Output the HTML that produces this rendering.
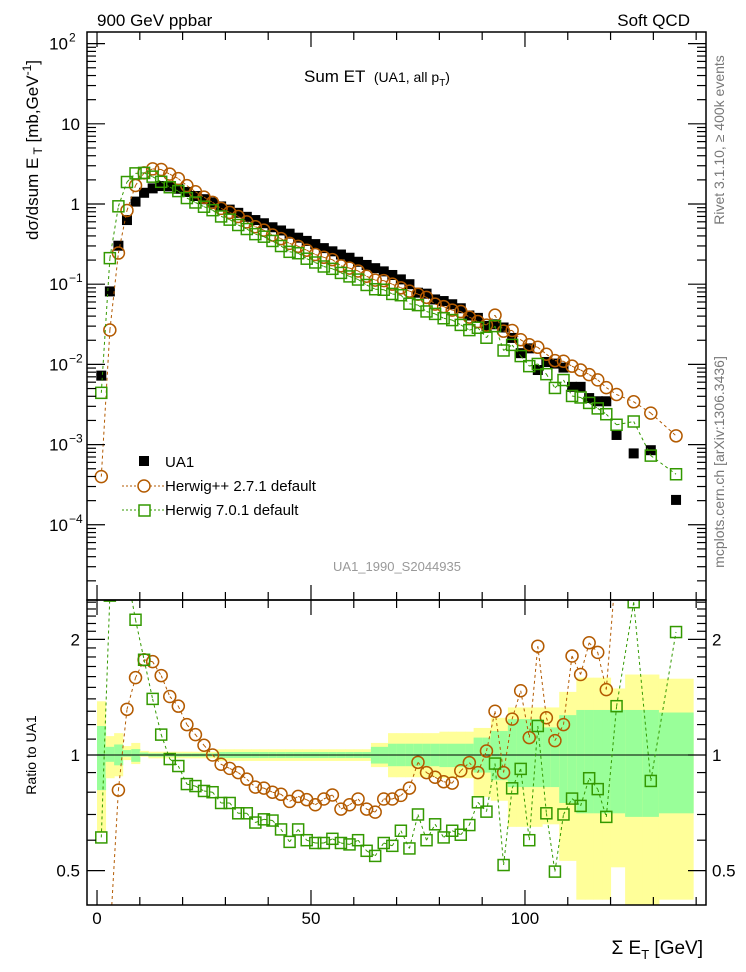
<!DOCTYPE html>
<html><head><meta charset="utf-8"><style>
html,body{margin:0;padding:0;background:#fff;width:746px;height:972px;overflow:hidden;}
svg{display:block;position:absolute;left:0;top:0;font-family:"Liberation Sans",sans-serif;overflow:hidden;}
</style></head><body>
<svg id="c" width="746" height="972" viewBox="0 0 746 972" xmlns="http://www.w3.org/2000/svg">
<defs>
<clipPath id="cpTop"><rect x="87" y="32" width="619" height="568"/></clipPath>
<clipPath id="cpBot"><rect x="87" y="600" width="619" height="305"/></clipPath>
</defs>
<g id="bands" clip-path="url(#cpBot)"></g>
<g id="gtop" clip-path="url(#cpTop)"></g>
<g id="gbot" clip-path="url(#cpBot)"></g>
<g id="axes"></g>
<text x="97" y="26" font-size="17">900 GeV ppbar</text>
<text x="690" y="26" font-size="17" text-anchor="end">Soft QCD</text>
<text x="304" y="82" font-size="17">Sum ET <tspan font-size="14" dx="4">(UA1, all p</tspan><tspan font-size="10" dy="4">T</tspan><tspan font-size="14" dy="-4">)</tspan></text>
<text transform="translate(38,150) rotate(-90)" font-size="17" text-anchor="middle">dσ/dsum E<tspan font-size="12" dy="4"> T</tspan><tspan dy="-4"> [mb,GeV</tspan><tspan font-size="12" dy="-7">-1</tspan><tspan dy="7">]</tspan></text>
<text transform="translate(36,755) rotate(-90)" font-size="14" text-anchor="middle">Ratio to UA1</text>
<text x="703" y="954" font-size="19" text-anchor="end">Σ E<tspan font-size="13" dy="5">T</tspan><tspan dy="-5"> [GeV]</tspan></text>
<text transform="translate(724,140) rotate(-90)" font-size="14" fill="#777" text-anchor="middle">Rivet 3.1.10, ≥ 400k events</text>
<text transform="translate(724,462) rotate(-90)" font-size="14" fill="#777" text-anchor="middle">mcplots.cern.ch [arXiv:1306.3436]</text>
<text x="397" y="571" font-size="13" fill="#999" text-anchor="middle">UA1_1990_S2044935</text>
<g>
<g>
<rect x="139" y="456" width="10" height="10" fill="#000"/>
<text x="165" y="467" font-size="15">UA1</text></g>
<g>
<line x1="122" y1="486" x2="165" y2="486" stroke="#b35a00" stroke-dasharray="2,2" stroke-width="1"/>
<circle cx="144" cy="486" r="6" fill="#fff" stroke="#b35a00" stroke-width="1.5"/>
<text x="165" y="491" font-size="15">Herwig++ 2.7.1 default</text></g>
<g>
<line x1="122" y1="510" x2="165" y2="510" stroke="#339900" stroke-dasharray="2,2" stroke-width="1"/>
<rect x="139" y="505" width="11" height="11" fill="#fff" stroke="#339900" stroke-width="1.5"/>
<text x="165" y="515" font-size="15">Herwig 7.0.1 default</text></g>
</g>
</svg>
<script>
const binCenters=[1,3,5,7,9,11,13,15,17,19,21,23,25,27,29,31,33,35,37,39,41,43,45,47,49,51,53,55,57,59,61,63,65,67,69,71,73,75,77,79,81,83,85,87,89,91,93,95,97,99,101,103,105,107,109,111,113,115,117,119,121.4,125.4,129.4,135.3];
const binLow=[0,2,4,6,8,10,12,14,16,18,20,22,24,26,28,30,32,34,36,38,40,42,44,46,48,50,52,54,56,58,60,62,64,66,68,70,72,74,76,78,80,82,84,86,88,90,92,94,96,98,100,102,104,106,108,110,112,114,116,118,120,123.4,127.4,131.3];
const binHigh=[2,4,6,8,10,12,14,16,18,20,22,24,26,28,30,32,34,36,38,40,42,44,46,48,50,52,54,56,58,60,62,64,66,68,70,72,74,76,78,80,82,84,86,88,90,92,94,96,98,100,102,104,106,108,110,112,114,116,118,120,123.4,127.4,131.3,139.3];
const ua1Log10=[-2.14,-1.09,-0.52,-0.2,0.03,0.14,0.195,0.224,0.22,0.19,0.15,0.10,0.06,0.02,-0.03,-0.07,-0.11,-0.16,-0.20,-0.24,-0.29,-0.33,-0.37,-0.42,-0.46,-0.50,-0.55,-0.59,-0.63,-0.67,-0.72,-0.76,-0.80,-0.84,-0.885,-0.94,-1.00,-1.106,-1.118,-1.19,-1.21,-1.25,-1.30,-1.39,-1.42,-1.52,-1.50,-1.54,-1.67,-1.86,-1.80,-2.07,-1.97,-1.99,-2.04,-2.28,-2.28,-2.42,-2.46,-2.46,-2.88,-3.11,-3.07,-3.69];
const herwigPPRatio=[0.055,0.33,0.81,1.315,1.59,1.77,1.75,1.61,1.42,1.34,1.20,1.13,1.06,1.0,0.946,0.923,0.90,0.865,0.825,0.82,0.80,0.79,0.757,0.78,0.765,0.742,0.768,0.787,0.723,0.742,0.768,0.723,0.71,0.768,0.768,0.785,0.82,0.957,0.90,0.875,0.852,0.845,0.91,0.955,0.90,1.024,1.30,0.90,1.24,1.47,1.11,1.92,1.25,1.09,1.20,1.81,1.62,1.96,1.85,1.48,3.2,4.4,2.9,6.3];
const herwig7Ratio=[0.61,2.6,3.1,2.98,2.25,1.77,1.40,1.13,0.976,0.936,0.84,0.83,0.806,0.80,0.75,0.75,0.705,0.705,0.667,0.68,0.675,0.64,0.594,0.64,0.60,0.59,0.59,0.605,0.59,0.585,0.60,0.563,0.546,0.59,0.58,0.635,0.571,0.70,0.60,0.66,0.61,0.635,0.62,0.657,0.753,0.712,0.95,0.517,0.819,0.92,0.60,1.19,0.705,0.497,0.70,0.77,0.737,0.87,0.815,0.69,1.34,2.5,0.856,2.09];
const totHi=[1.38,1.12,1.14,1.055,1.075,1.025,1.02,1.02,1.02,1.02,1.02,1.02,1.02,1.02,1.035,1.035,1.035,1.035,1.035,1.035,1.035,1.035,1.035,1.035,1.035,1.035,1.035,1.035,1.035,1.035,1.035,1.035,1.075,1.075,1.14,1.14,1.14,1.14,1.14,1.14,1.15,1.15,1.15,1.15,1.176,1.176,1.25,1.25,1.33,1.33,1.33,1.33,1.33,1.33,1.46,1.46,1.59,1.59,1.59,1.59,1.49,1.62,1.62,1.58];
const totLo=[0.627,0.87,0.88,0.97,0.947,0.99,0.98,0.98,0.98,0.98,0.98,0.98,0.98,0.98,0.965,0.965,0.965,0.965,0.965,0.965,0.965,0.965,0.965,0.965,0.965,0.965,0.965,0.965,0.965,0.965,0.965,0.965,0.93,0.93,0.875,0.875,0.875,0.875,0.875,0.875,0.87,0.87,0.87,0.87,0.777,0.777,0.76,0.76,0.65,0.65,0.65,0.65,0.66,0.66,0.53,0.53,0.42,0.42,0.42,0.42,0.51,0.39,0.39,0.42];
const statHi=[1.19,1.05,1.065,1.03,1.036,1.015,1.01,1.01,1.01,1.01,1.01,1.01,1.01,1.01,1.018,1.018,1.018,1.018,1.018,1.018,1.018,1.018,1.018,1.018,1.018,1.018,1.018,1.018,1.018,1.018,1.018,1.018,1.05,1.05,1.07,1.07,1.07,1.07,1.07,1.07,1.07,1.07,1.07,1.07,1.11,1.11,1.155,1.155,1.24,1.24,1.24,1.24,1.18,1.18,1.27,1.27,1.31,1.31,1.31,1.31,1.31,1.31,1.31,1.29];
const statLo=[0.81,0.96,0.94,0.99,0.96,0.995,0.99,0.99,0.99,0.99,0.99,0.99,0.99,0.99,0.982,0.982,0.982,0.982,0.982,0.982,0.982,0.982,0.982,0.982,0.982,0.982,0.982,0.982,0.982,0.982,0.982,0.982,0.95,0.95,0.935,0.935,0.935,0.935,0.935,0.935,0.93,0.93,0.93,0.93,0.90,0.90,0.86,0.86,0.825,0.825,0.825,0.825,0.825,0.825,0.75,0.75,0.705,0.705,0.705,0.705,0.705,0.69,0.69,0.705];
const xTickLabels=["0","50","100"];
const xTickValues=[0,50,100];

const NS="http://www.w3.org/2000/svg";
const X0=87,X1=706,TY0=32,TY1=600,BY0=600,BY1=905;
const xMin=-2.34,xMax=142.3;
const yLogMax=2.145,yLogMin=-4.938;
const rLogMax=0.4036,rLogMin=-0.3906;
function sx(v){return X0+(v-xMin)/(xMax-xMin)*(X1-X0);}
function syTop(lg){return TY0+(yLogMax-lg)/(yLogMax-yLogMin)*(TY1-TY0);}
function syBot(r){return BY0+(rLogMax-Math.log10(r))/(rLogMax-rLogMin)*(BY1-BY0);}
function mk(tag,attrs,parent){const e=document.createElementNS(NS,tag);for(const k in attrs)e.setAttribute(k,attrs[k]);parent.appendChild(e);return e;}
const gtop=document.getElementById('gtop'),gbot=document.getElementById('gbot'),gb=document.getElementById('bands'),ax=document.getElementById('axes');
const PP="#b35a00",H7="#339900";

function clipSeg(x1,y1,x2,y2,ya,yb){
  let t0=0,t1=1;const dy=y2-y1;
  if(dy===0){if(y1<ya||y1>yb)return null;}
  else{
    let ta=(ya-y1)/dy,tb=(yb-y1)/dy;if(ta>tb){const t=ta;ta=tb;tb=t;}
    t0=Math.max(t0,ta);t1=Math.min(t1,tb);if(t0>t1)return null;
  }
  return [x1+(x2-x1)*t0,y1+dy*t0,x1+(x2-x1)*t1,y1+dy*t1];
}

for(let i=0;i<binCenters.length;i++){
  const x=sx(binLow[i]),w=sx(binHigh[i])-sx(binLow[i]);
  let yT=Math.max(BY0,syBot(totHi[i])),yB=Math.min(BY1,syBot(totLo[i]));
  const r1=mk('rect',{x:x,y:yT,width:w+0.5,height:yB-yT,fill:'#ffff99'},gb);
  
  
  yT=Math.max(BY0,syBot(statHi[i]));yB=Math.min(BY1,syBot(statLo[i]));
  const r2=mk('rect',{x:x,y:yT,width:w+0.5,height:yB-yT,fill:'#99ff99'},gb);
  
  
}
mk('line',{x1:X0,x2:X1,y1:syBot(1),y2:syBot(1),stroke:'#000','stroke-width':1},gb);

function series(vals,toY,g,color,shape,name,ya,yb){
  let d='';
  for(let i=1;i<vals.length;i++){
    const s=clipSeg(sx(binCenters[i-1]),toY(vals[i-1],i-1),sx(binCenters[i]),toY(vals[i],i),ya,yb);
    if(s)d+='M'+s[0].toFixed(1)+','+s[1].toFixed(1)+'L'+s[2].toFixed(1)+','+s[3].toFixed(1);
  }
  const p=mk('path',{d:d,fill:'none',stroke:color,'stroke-width':1,'stroke-dasharray':'3,3'},g);
  
  
  vals.forEach((v,i)=>{
    const cx=sx(binCenters[i]),cy=toY(v,i);
    if(cy<ya-7||cy>yb+7)return;
    let m;
    if(shape==='circle') m=mk('circle',{cx:cx,cy:cy,r:6,fill:'none',stroke:color,'stroke-width':1.5},g);
    else m=mk('rect',{x:cx-5.5,y:cy-5.5,width:11,height:11,fill:'none',stroke:color,'stroke-width':1.5},g);
    
    
  });
}
ua1Log10.forEach((v,i)=>{
  const r=mk('rect',{x:sx(binCenters[i])-5,y:syTop(v)-5,width:10,height:10,fill:'#000'},gtop);
  
  
});
series(herwigPPRatio,(r,i)=>syTop(ua1Log10[i]+Math.log10(r)),gtop,PP,'circle','herwigpp',TY0,TY1);
series(herwig7Ratio,(r,i)=>syTop(ua1Log10[i]+Math.log10(r)),gtop,H7,'square','herwig7',TY0,TY1);
series(herwigPPRatio,(r)=>syBot(r),gbot,PP,'circle','herwigpp-ratio',BY0,BY1);
series(herwig7Ratio,(r)=>syBot(r),gbot,H7,'square','herwig7-ratio',BY0,BY1);

mk('rect',{x:X0,y:TY0,width:X1-X0,height:TY1-TY0,fill:'none',stroke:'#000','stroke-width':1.5},ax);
mk('rect',{x:X0,y:BY0,width:X1-X0,height:BY1-BY0,fill:'none',stroke:'#000','stroke-width':1.5},ax);
function ln(x1,y1,x2,y2){mk('line',{x1:x1,y1:y1,x2:x2,y2:y2,stroke:'#000','stroke-width':1.2},ax);}
for(let v=0;v<=140;v+=10){
  const x=sx(v),L=(v%50===0)?15:8;
  ln(x,TY1,x,TY1-L);ln(x,TY0,x,TY0+L);ln(x,BY1,x,BY1-L);ln(x,BY0,x,BY0+L);
}
xTickValues.forEach((v,i)=>{
  const t=mk('text',{x:sx(v),y:924,'font-size':17,'text-anchor':'middle'},ax);t.textContent=xTickLabels[i];
  
  
});
for(let e=-5;e<=2;e++){
  for(let m=1;m<10;m++){
    const lg=e+Math.log10(m);if(lg>yLogMax||lg<yLogMin)continue;
    const y=syTop(lg),L=m===1?18:9;
    ln(X0,y,X0+L,y);ln(X1,y,X1-L,y);
  }
}
const topLabels=[[2,'10','2'],[1,'10',''],[0,'1',''],[-1,'10','−1'],[-2,'10','−2'],[-3,'10','−3'],[-4,'10','−4']];
topLabels.forEach(l=>{
  const y=syTop(l[0]);
  const t=mk('text',{x:l[2]?68:80,y:y+6,'font-size':17,'text-anchor':'end'},ax);t.textContent=l[1];
  
  
  if(l[2]){const s=mk('text',{x:69,y:y-2,'font-size':12},ax);s.textContent=l[2];}
});
for(let v=0.5;v<=2.51;v+=0.1){
  const vv=Math.round(v*10)/10;
  if(vv<0.41||vv>2.53)continue;
  const y=syBot(vv),L=(vv===0.5||vv===1||vv===2)?18:9;
  ln(X0,y,X0+L,y);ln(X1,y,X1-L,y);
}
[[2,'2'],[1,'1'],[0.5,'0.5']].forEach(l=>{
  const y=syBot(l[0]);
  const t=mk('text',{x:80,y:y+6,'font-size':17,'text-anchor':'end'},ax);t.textContent=l[1];
  
  
  const t2=mk('text',{x:712,y:y+6,'font-size':17},ax);t2.textContent=l[1];
  
  
});
</script>
</body></html>
